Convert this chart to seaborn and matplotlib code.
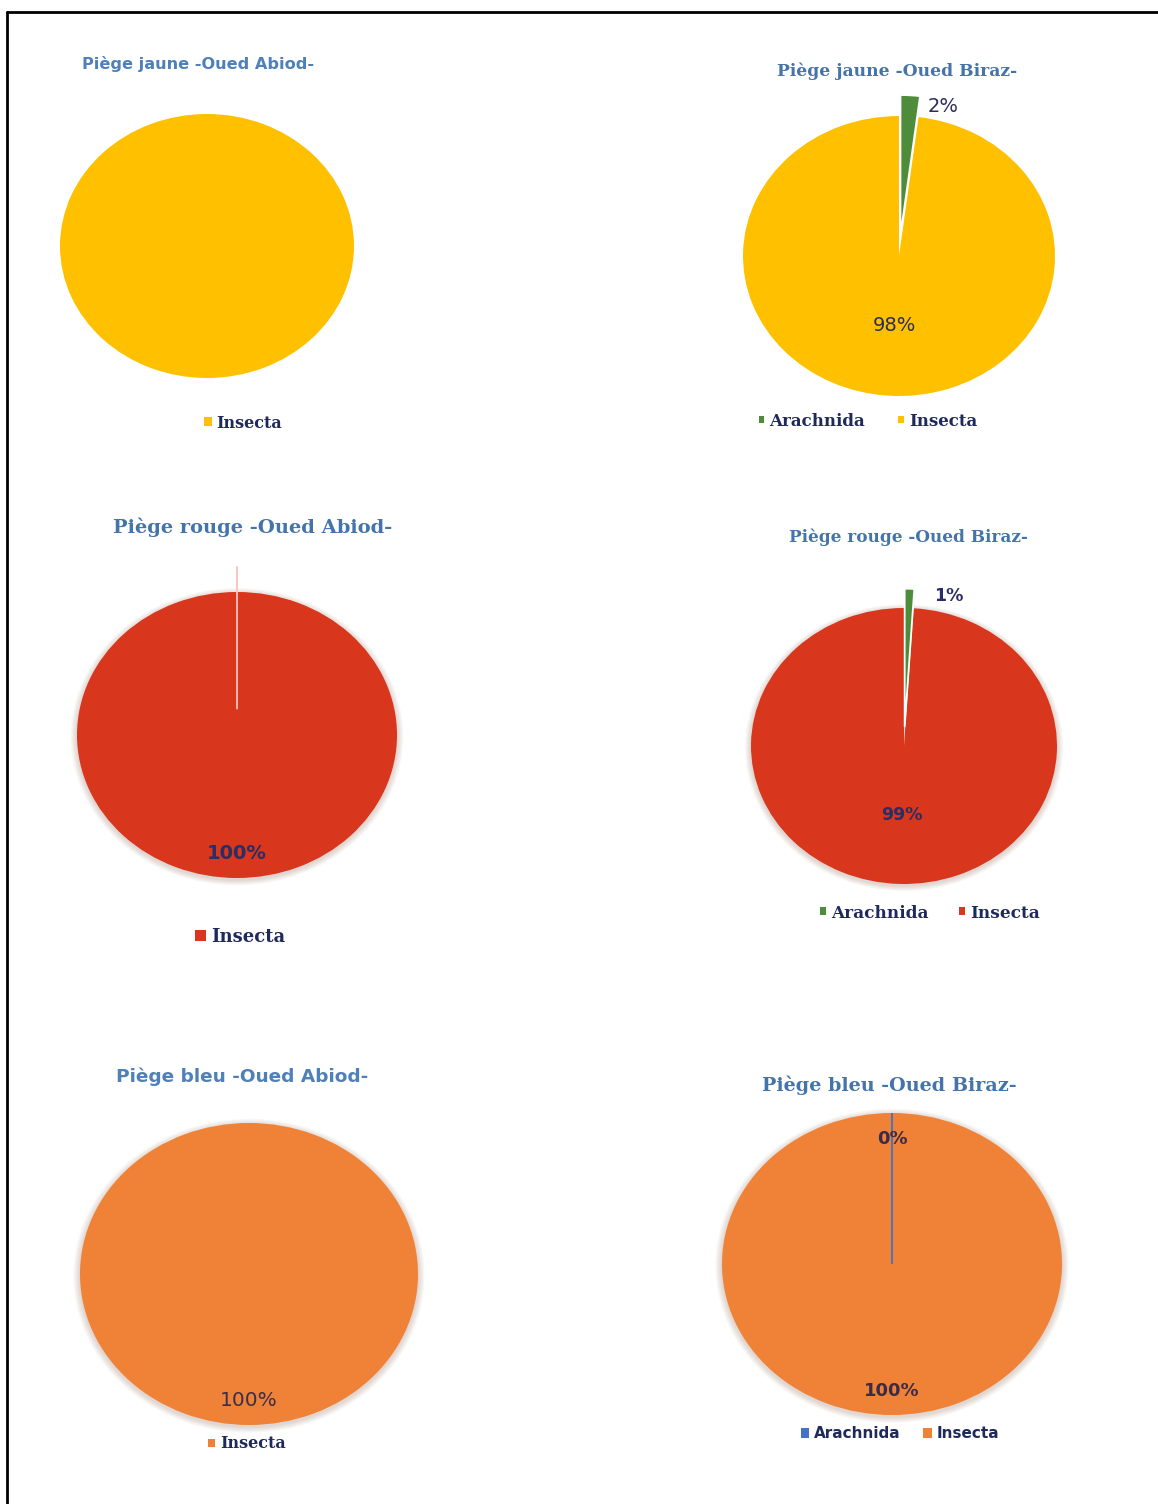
import numpy as np
import matplotlib
matplotlib.use("Agg")
import matplotlib.pyplot as plt
import seaborn as sns
from matplotlib.patches import Patch, Ellipse
from matplotlib.lines import Line2D

# data
classes = ["Arachnida", "Insecta"]
titles = ["Piège jaune -Oued Abiod-", "Piège jaune -Oued Biraz-",
          "Piège rouge -Oued Abiod-", "Piège rouge -Oued Biraz-",
          "Piège bleu -Oued Abiod-", "Piège bleu -Oued Biraz-"]
jaune_abiod = [100]
jaune_biraz = [2, 98]
rouge_abiod = [0, 100]
rouge_biraz = [1, 99]
bleu_abiod = [100]
bleu_biraz = [0, 100]

sns.set_theme(style="white")
plt.rcParams["font.family"] = ["DejaVu Sans"]

W, H = 1158, 1504
fig = plt.figure(figsize=(W / 100, H / 100), dpi=100)
fig.patch.set_facecolor("white")

yellow, green, red, orange, blue = "#FFC000", "#4E8B3A", "#D8361D", "#EF8236", "#4472C4"
title_blue = "#4574AA"
navy = "#1F2A5C"


def fx(x):
    return x / W


def fy(y):
    return 1 - y / H


def pie_panel(vals, cols, box, explode=None, pct=True, pctdist=0.5, small_edge=None,
              small_pos=None, pct_kw=None, show_small=True, shadow=False):
    cx, cy, rx, ry = box
    ax = fig.add_axes([fx(cx - rx), fy(cy + ry), 2 * rx / W, 2 * ry / H])
    if shadow:
        # soft rim like the office-style pie shadow
        for k in range(8):
            s = 1.0 + 0.005 * (k + 1)
            ax.add_patch(Ellipse((0, -0.012), 2 * s, 2 * s, facecolor="#8A5A40",
                                 alpha=0.03, edgecolor="none", clip_on=False, zorder=0))
    kw = {}
    if pct:
        kw["autopct"] = "%1.0f%%"
        kw["pctdistance"] = pctdist
    res = ax.pie(vals, colors=cols, startangle=90, counterclock=False, explode=explode,
                 wedgeprops=dict(edgecolor="none", linewidth=0), normalize=True, **kw)
    wedges = res[0]
    for w in wedges:
        w.set_clip_on(False)
    if len(wedges) > 1:
        wedges[0].set_edgecolor(small_edge if small_edge is not None else "white")
        wedges[0].set_linewidth(1.3)
        wedges[0].set_zorder(3)
    if pct:
        for t in res[2]:
            t.set(**(pct_kw or {}))
            t.set_clip_on(False)
            t.set_zorder(5)
        if small_pos is not None and len(res[2]) > 1:
            res[2][0].set_position(small_pos)
            if not show_small:
                res[2][0].set_visible(False)
    ax.set_xlim(-1, 1)
    ax.set_ylim(-1, 1)
    ax.set_aspect("auto")
    ax.axis("off")
    return ax, wedges


def legend(labels, cols, x, y, size, family, msize=0.5, spacing=1.5):
    handles = [Patch(facecolor=c, edgecolor="none") for c in cols]
    fig.legend(handles, labels, loc="center", bbox_to_anchor=(fx(x), fy(y)), ncol=len(labels),
               frameon=False, handlelength=msize, handleheight=msize, handletextpad=0.3,
               columnspacing=spacing,
               prop=dict(family=family, weight="bold", size=size), labelcolor=navy)


# 1. yellow Abiod
pie_panel(jaune_abiod, [yellow], (207, 246, 147, 132), pct=False)
fig.text(fx(198), fy(64), titles[0], ha="center", va="center", fontsize=11.6,
         fontweight="bold", color="#4F80BA")
legend(["Insecta"], [yellow], 243, 423, 11.5, "DejaVu Serif", msize=0.5)

# 2. yellow Biraz
pie_panel(jaune_biraz, [green, yellow], (899, 256, 156, 140), explode=[0.15, 0],
          pctdist=0.5, small_pos=(0.28, 1.07),
          pct_kw=dict(fontsize=14, color="#2B2D5A"))
fig.text(fx(897), fy(71), titles[1], ha="center", va="center", fontsize=12.3,
         fontweight="bold", family="DejaVu Serif", color=title_blue)
legend(classes, [green, yellow], 868, 421, 12, "DejaVu Serif", msize=0.35, spacing=2.0)

# 3. red Abiod
pie_panel(rouge_abiod, ["#F4B8B0", red], (237, 735, 160, 143), explode=[0.18, 0],
          pctdist=0.83, small_pos=(0, 0), show_small=False, small_edge="#F2C4BC",
          pct_kw=dict(fontsize=14, fontweight="bold", color="#2A2E62"), shadow=True)
fig.text(fx(253), fy(527), titles[2], ha="center", va="center", fontsize=14,
         fontweight="bold", family="DejaVu Serif", color=title_blue)
legend(["Insecta"], [red], 240, 937, 13, "DejaVu Serif", msize=0.6)

# 4. red Biraz
pie_panel(rouge_biraz, [green, red], (904, 746, 153, 138), explode=[0.14, 0],
          pctdist=0.5, small_pos=(0.29, 1.09),
          pct_kw=dict(fontsize=12.5, fontweight="bold", color="#2A2E62"), shadow=True)
fig.text(fx(908), fy(537), titles[3], ha="center", va="center", fontsize=12.2,
         fontweight="bold", family="DejaVu Serif", color=title_blue)
legend(classes, [green, red], 930, 913, 12.2, "DejaVu Serif", msize=0.35, spacing=1.8)

# 5. blue Abiod
pie_panel(bleu_abiod, [orange], (249, 1274, 169, 151), pctdist=0.84,
          pct_kw=dict(fontsize=14.5, color="#3A2E4A"), shadow=True)
fig.text(fx(242), fy(1077), titles[4], ha="center", va="center", fontsize=13.3,
         fontweight="bold", color="#4F80BA")
legend(["Insecta"], [orange], 247, 1444, 11.5, "DejaVu Serif", msize=0.45)

# 6. blue Biraz
pie_panel(bleu_biraz, [blue, orange], (892, 1264, 170, 151), pctdist=0.84,
          small_pos=(0.0, 0.83), small_edge=blue,
          pct_kw=dict(fontsize=13, fontweight="bold", color="#3B2A48"), shadow=True)
fig.text(fx(889), fy(1085), titles[5], ha="center", va="center", fontsize=13.8,
         fontweight="bold", family="DejaVu Serif", color=title_blue)
legend(classes, [blue, orange], 900, 1434, 11, "DejaVu Sans", msize=0.55, spacing=1.5)

# frame lines (top and left)
fig.add_artist(Line2D([fx(7), 1], [fy(12), fy(12)], color="black", lw=2))
fig.add_artist(Line2D([fx(7), fx(7)], [fy(12), 0], color="black", lw=2))

fig.savefig("out.png", dpi=100, facecolor="white")
